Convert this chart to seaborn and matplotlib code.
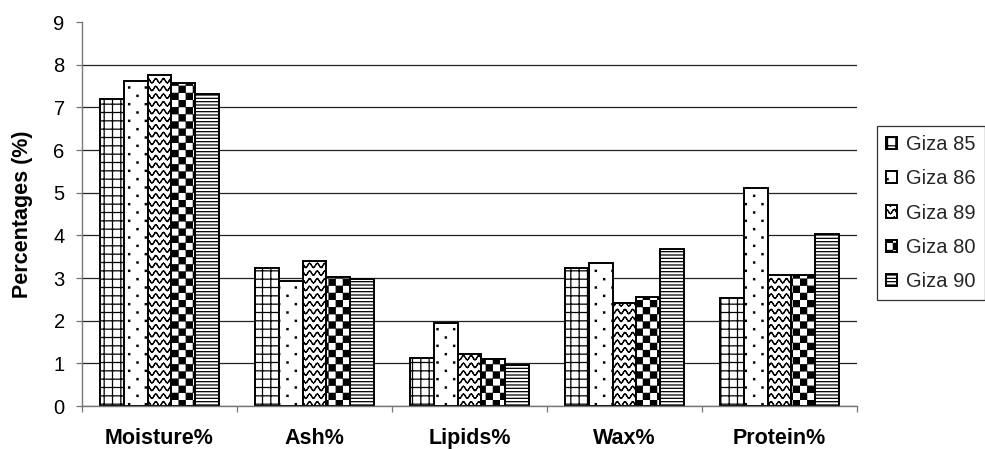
import numpy as np
import pandas as pd
import matplotlib
matplotlib.use("Agg")
import matplotlib.pyplot as plt
import matplotlib.hatch as mhatch
from matplotlib.path import Path
from matplotlib.ticker import FixedLocator, NullFormatter
import seaborn as sns

# ---- data -------------------------------------------------------------
components = ["Moisture%", "Ash%", "Lipids%", "Wax%", "Protein%"]
varieties = ["Giza 85", "Giza 86", "Giza 89", "Giza 80", "Giza 90"]
giza85 = [7.20, 3.24, 1.12, 3.23, 2.52]
giza86 = [7.62, 2.93, 1.94, 3.34, 5.12]
giza89 = [7.75, 3.39, 1.23, 2.41, 3.07]
giza80 = [7.58, 3.03, 1.11, 2.56, 3.07]
giza90 = [7.31, 2.97, 0.96, 3.67, 4.02]
y_ticks = [0, 1, 2, 3, 4, 5, 6, 7, 8, 9]


# ---- extra fill patterns ----------------------------------------------
# '.' = sparse tiny dots, 'O' = wavy lines, '*' = checkerboard
class DotHatch(mhatch.HatchPatternBase):
    rows = 12
    cols = 6
    size = 0.006

    def __init__(self, hatch, density):
        self.on = hatch.count(".") > 0
        self.num_vertices = (self.rows * self.cols) * 5 if self.on else 0

    def set_vertices_and_codes(self, vertices, codes):
        if not self.on:
            return
        verts = []
        s = self.size
        for i in range(self.rows):
            y = (i + 0.5) / self.rows
            shift = 0.25 if i % 2 == 0 else 0.75
            for j in range(self.cols):
                x = (j + shift) / self.cols
                verts += [(x - s, y - s), (x + s, y - s), (x + s, y + s),
                          (x - s, y + s), (x - s, y - s)]
        vertices[:] = np.array(verts)
        c = np.array([Path.MOVETO, Path.LINETO, Path.LINETO, Path.LINETO, Path.CLOSEPOLY])
        codes[:] = np.tile(c, self.rows * self.cols)


class WaveHatch(mhatch.HatchPatternBase):
    rows = 13
    periods = 13
    steps = 8

    def __init__(self, hatch, density):
        self.on = hatch.count("O") > 0
        self.num_vertices = (self.rows * self.periods * self.steps * 2) if self.on else 0

    def set_vertices_and_codes(self, vertices, codes):
        if not self.on:
            return
        amp = 0.28 / self.rows
        t = np.linspace(0.0, 1.0, self.periods * self.steps + 1)
        segs = []
        for i in range(self.rows):
            y0 = (i + 0.5) / self.rows
            y = y0 + amp * np.sin(2 * np.pi * self.periods * t)
            for k in range(len(t) - 1):
                segs.append((t[k], y[k]))
                segs.append((t[k + 1], y[k + 1]))
        vertices[:] = np.array(segs)
        codes[0::2] = Path.MOVETO
        codes[1::2] = Path.LINETO


class CheckerHatch(mhatch.HatchPatternBase):
    cells = 14

    def __init__(self, hatch, density):
        self.on = hatch.count("*") > 0
        n = self.cells
        self.num_vertices = (n * n // 2) * 5 if self.on else 0

    def set_vertices_and_codes(self, vertices, codes):
        if not self.on:
            return
        n = self.cells
        s = 1.0 / n
        m = 0.07 * s
        verts = []
        for i in range(n):
            for j in range(n):
                if (i + j) % 2 == 0:
                    x0, y0 = i * s + m, j * s + m
                    x1, y1 = (i + 1) * s - m, (j + 1) * s - m
                    verts += [(x0, y0), (x1, y0), (x1, y1), (x0, y1), (x0, y0)]
        vertices[:] = np.array(verts)
        c = np.array([Path.MOVETO, Path.LINETO, Path.LINETO, Path.LINETO, Path.CLOSEPOLY])
        codes[:] = np.tile(c, n * n // 2)


mhatch._hatch_types = [
    mhatch.HorizontalHatch,
    mhatch.VerticalHatch,
    mhatch.NorthEastHatch,
    mhatch.SouthEastHatch,
    DotHatch,
    WaveHatch,
    CheckerHatch,
]

hatches = ["++", ".", "O", "*", "-----"]

# ---- frame ------------------------------------------------------------
sns.set_theme(style="white")
plt.rcParams["font.family"] = ["Liberation Sans", "DejaVu Sans"]
plt.rcParams["hatch.linewidth"] = 0.9

df = pd.DataFrame({
    "Component": np.repeat(components, len(varieties)),
    "Variety": varieties * len(components),
    "Value": np.column_stack([giza85, giza86, giza89, giza80, giza90]).ravel(),
})

fig = plt.figure(figsize=(9.85, 4.49), dpi=100)
ax = fig.add_axes([82 / 985, 43 / 449, 775 / 985, 384 / 449])

sns.barplot(
    data=df, x="Component", y="Value", hue="Variety",
    order=components, hue_order=varieties,
    palette=["white"] * len(varieties), saturation=1,
    width=0.77, edgecolor="black", linewidth=1.4,
    errorbar=None, legend=False, ax=ax,
)

for cont, h in zip(ax.containers, hatches):
    for bar in cont:
        bar.set_hatch(h)

ax.set_xlim(-0.5, len(components) - 0.5)
ax.set_ylim(0, 9)
ax.set_yticks(y_ticks)
ax.yaxis.grid(True, color="#222222", linewidth=0.9)
ax.set_axisbelow(True)
# the top of the scale carries a tick but no grid line
ax.yaxis.get_gridlines()[-1].set_visible(False)

for side in ("top", "right"):
    ax.spines[side].set_visible(False)
for side in ("left", "bottom"):
    ax.spines[side].set_color("#777777")
    ax.spines[side].set_linewidth(1.0)

ax.tick_params(axis="y", which="major", left=True, length=4.5, width=0.9,
               color="#777777", pad=8, labelsize=14.5, labelcolor="black")
ax.tick_params(axis="x", which="major", bottom=False, length=0, pad=16,
               labelsize=15.5, labelcolor="black")
ax.xaxis.set_minor_locator(FixedLocator(np.arange(-0.5, len(components), 1.0)))
ax.xaxis.set_minor_formatter(NullFormatter())
ax.tick_params(axis="x", which="minor", bottom=True, length=4.5, width=0.9,
               color="#777777")
for lbl in ax.get_xticklabels():
    lbl.set_fontweight("bold")

ax.set_xlabel("")
ax.set_ylabel("Percentages (%)", fontsize=15.5, fontweight="bold", color="black")
ax.yaxis.set_label_coords(-0.063, 0.5)

leg = fig.legend(
    ax.containers, varieties,
    loc="upper left", bbox_to_anchor=(877 / 985, 1 - 126 / 449),
    frameon=True, fancybox=False, shadow=False, fontsize=14.5,
    handlelength=0.55, handleheight=0.55, handletextpad=0.45,
    labelspacing=0.76, borderpad=0.45, borderaxespad=0.0,
)
leg.get_frame().set_edgecolor("black")
leg.get_frame().set_linewidth(0.9)
leg.get_frame().set_facecolor("white")

fig.savefig("out.png", dpi=100, facecolor="white")
